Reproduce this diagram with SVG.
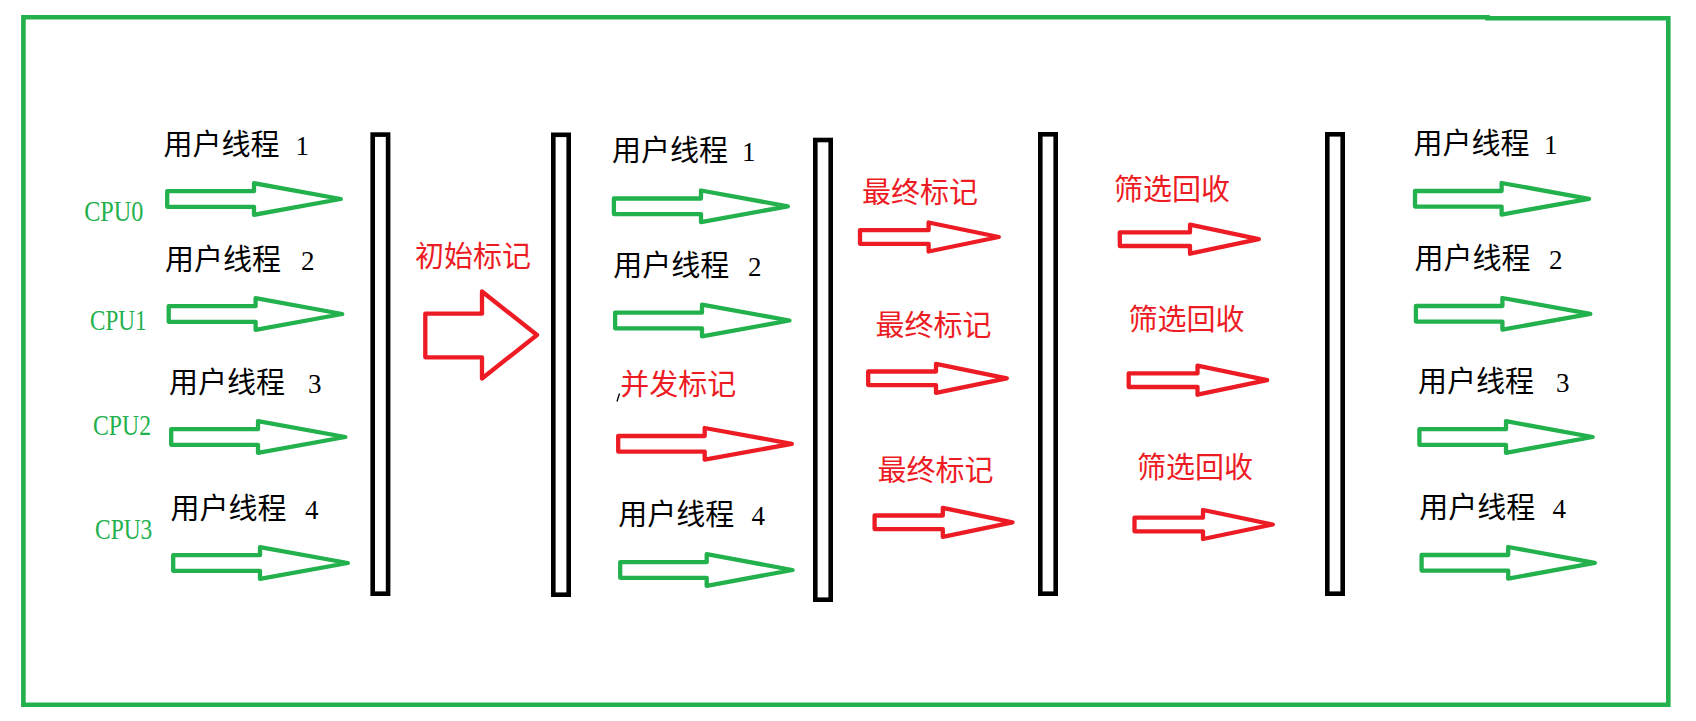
<svg xmlns="http://www.w3.org/2000/svg" width="1696" height="721" viewBox="0 0 1696 721">
<style>
.frame{fill:none;stroke:#22b14c;stroke-width:4.6;stroke-linejoin:miter}
.bar{fill:#fff;stroke:#000;stroke-width:4.6}
.ga{fill:none;stroke:#22b14c;stroke-width:4.3;stroke-linejoin:round}
.ra{fill:none;stroke:#ed1c24;stroke-width:4.3;stroke-linejoin:round}
.t{font-family:"Liberation Serif","Noto Sans CJK SC",serif;font-size:29px;fill:#000}
.t tspan{font-size:27px}
.r{font-family:"Noto Sans CJK SC",sans-serif;font-size:29px;fill:#ed1c24}
.cpu{font-family:"Liberation Serif",serif;font-size:29px;fill:#22b14c}
</style>
<rect width="1696" height="721" fill="#fff"/>
<path class="frame" d="M23.4,704.7 V17.2 H1487.5 V18.3 H1668.3 V704.7 Z"/>

<g id="bar1"><rect class="bar" x="372.7" y="134.6" width="15.4" height="459.1"/></g>
<g id="bar2"><rect class="bar" x="553.3" y="134.8" width="15.4" height="459.9"/></g>
<g id="bar3"><rect class="bar" x="815.3" y="140" width="15.4" height="459.7"/></g>
<g id="bar4"><rect class="bar" x="1040.3" y="134.3" width="15.4" height="459.4"/></g>
<g id="bar5"><rect class="bar" x="1327.3" y="134.3" width="15.4" height="459.4"/></g>

<g id="connectors">
<path class="ga" d="M167.2,191.2 H254 V183.2 L340.8,199 L254,214.8 V206.8 H167.2 Z"/>
<path class="ga" d="M168.7,306.2 H255.6 V298.2 L342.2,314 L255.6,329.8 V321.8 H168.7 Z"/>
<path class="ga" d="M171.2,429.2 H258 V421.2 L345.3,437 L258,452.8 V444.8 H171.2 Z"/>
<path class="ga" d="M173.2,555.2 H260 V547.2 L347.8,563 L260,578.8 V570.8 H173.2 Z"/>
<path class="ra" d="M425.3,313.7 H482 V291.5 L537,335 L482,378.5 V357.3 H425.3 Z"/>
<path class="ga" d="M613.9,198.5 H701 V190.5 L787.8,206.3 L701,222.1 V214.1 H613.9 Z"/>
<path class="ga" d="M615.1,312.7 H702 V304.7 L789.4,320.5 L702,336.3 V328.3 H615.1 Z"/>
<path class="ra" d="M618.2,436 H704.7 V428 L791.8,443.8 L704.7,459.6 V451.6 H618.2 Z"/>
<path class="ga" d="M620.2,562.2 H706.7 V554.2 L792.5,570 L706.7,585.8 V577.8 H620.2 Z"/>
<path class="ra" d="M860,230.2 H928.6 V222.5 L998.8,237 L928.6,251.5 V243.8 H860 Z"/>
<path class="ra" d="M868.2,371.5 H936 V363.8 L1006.8,378.3 L936,392.8 V385.1 H868.2 Z"/>
<path class="ra" d="M874.6,515.5 H942.8 V507.8 L1012.5,522.3 L942.8,536.8 V529.1 H874.6 Z"/>
<path class="ra" d="M1119.8,232.4 H1190 V224.7 L1258.8,239.2 L1190,253.7 V246 H1119.8 Z"/>
<path class="ra" d="M1128.7,373.4 H1197.5 V365.7 L1267.2,380.2 L1197.5,394.7 V387 H1128.7 Z"/>
<path class="ra" d="M1134.5,517.7 H1203 V510 L1272.8,524.5 L1203,539 V531.3 H1134.5 Z"/>
<path class="ga" d="M1415,191 H1501.6 V183 L1589,198.8 L1501.6,214.6 V206.6 H1415 Z"/>
<path class="ga" d="M1415.9,306 H1502.4 V298 L1590.3,313.8 L1502.4,329.6 V321.6 H1415.9 Z"/>
<path class="ga" d="M1419.4,429.2 H1506 V421.2 L1592.6,437 L1506,452.8 V444.8 H1419.4 Z"/>
<path class="ga" d="M1421.6,555 H1508.2 V547 L1594.8,562.8 L1508.2,578.6 V570.6 H1421.6 Z"/>
</g>

<g id="labels-left">
<text class="t" x="163.5" y="154.5">用户线程<tspan x="295.5">1</tspan></text>
<text class="t" x="165" y="270">用户线程<tspan x="301">2</tspan></text>
<text class="t" x="169" y="393">用户线程<tspan x="308">3</tspan></text>
<text class="t" x="170.5" y="518.5">用户线程<tspan x="305">4</tspan></text>
<text class="cpu" x="84.2" y="220.7" textLength="59.3" lengthAdjust="spacingAndGlyphs">CPU0</text>
<text class="cpu" x="90" y="330" textLength="56.6" lengthAdjust="spacingAndGlyphs">CPU1</text>
<text class="cpu" x="93" y="435" textLength="58" lengthAdjust="spacingAndGlyphs">CPU2</text>
<text class="cpu" x="95" y="539.3" textLength="57.3" lengthAdjust="spacingAndGlyphs">CPU3</text>
</g>
<g id="label-initial"><text class="r" x="415" y="267.3">初始标记</text></g>
<g id="labels-middle">
<text class="t" x="612" y="161.3">用户线程<tspan x="742">1</tspan></text>
<text class="t" x="613.3" y="276.3">用户线程<tspan x="748">2</tspan></text>
<text class="r" x="620.2" y="394.7">并发标记</text>
<line x1="619.5" y1="393.5" x2="617" y2="401.5" stroke="#000" stroke-width="1.3"/>
<text class="t" x="618.3" y="524.7">用户线程<tspan x="751.5">4</tspan></text>
</g>
<g id="labels-final">
<text class="r" x="862" y="203">最终标记</text>
<text class="r" x="875.5" y="336.3">最终标记</text>
<text class="r" x="877.5" y="481.3">最终标记</text>
</g>
<g id="labels-sweep">
<text class="r" x="1114" y="199.7">筛选回收</text>
<text class="r" x="1128.5" y="330.3">筛选回收</text>
<text class="r" x="1137" y="478">筛选回收</text>
</g>
<g id="labels-right">
<text class="t" x="1413.5" y="154">用户线程<tspan x="1544">1</tspan></text>
<text class="t" x="1414.5" y="269">用户线程<tspan x="1549">2</tspan></text>
<text class="t" x="1418" y="392.3">用户线程<tspan x="1556">3</tspan></text>
<text class="t" x="1419.3" y="518">用户线程<tspan x="1552.5">4</tspan></text>
</g>
</svg>
